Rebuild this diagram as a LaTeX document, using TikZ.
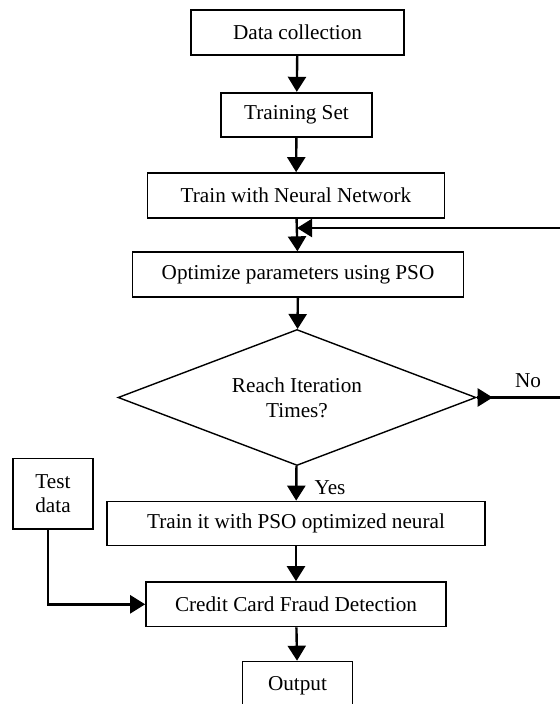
\documentclass[tikz,border=0pt]{standalone}
\usepackage{fontspec}
\setmainfont{Liberation Serif}
\usetikzlibrary{shapes.geometric,arrows.meta}

\begin{document}
\begin{tikzpicture}[x=0.5pt, y=-0.5pt,
    box/.style={draw, line width=0.85pt, inner sep=0pt, align=center,
                font=\fontsize{10.6}{12.3}\selectfont},
    decision/.style={box, diamond, aspect=2.63, line width=0.7pt},
    flow/.style={line width=1.2pt, -{Triangle[length=7.5pt,width=9pt]}},
    wire/.style={line width=1.2pt},
    tag/.style={font=\fontsize{10.6}{12.3}\selectfont}]
        \clip (0,0) rectangle (560,704);                                                              % page frame
        \node[box, minimum width=106.5pt, minimum height=22.5pt] (collect)  at (297.5,32.5)  {Data collection};
        \node[box, minimum width=75.5pt,  minimum height=22.3pt] (trainset) at (296.5,115)   {Training Set};
        \node[box, minimum width=148.5pt, minimum height=22.5pt] (trainnn)  at (296,195.5)   {Train with Neural Network};
        \node[box, minimum width=165.5pt, minimum height=22.3pt] (optim)    at (298,274.5)   {Optimize parameters using PSO};
        \node[decision, minimum width=179pt, minimum height=68pt] (reach)   at (297,397.5)   {Reach Iteration\\Times?};
        \node[box, minimum width=189pt,   minimum height=22pt]   (trainpso) at (296,523.5)   {Train it with PSO optimized neural};
        \node[box, minimum width=150pt,   minimum height=22.3pt] (detect)   at (296,604.3)   {Credit Card Fraud Detection};
        \node[box, minimum width=55pt,    minimum height=24pt, anchor=north] (output) at (297.5,660.7) {Output};
        \node[box, minimum width=39.7pt,  minimum height=35.3pt] (testdata) at (53,493.7)    {Test\\data};
        % loop back from the decision
        \coordinate (fbin)  at (297,228);
        \coordinate (loopa) at (580,397.5);
        \coordinate (loopb) at (580,228);
        \draw [flow] (collect)  -- (trainset);                                                         %
        \draw [flow] (trainset) -- (trainnn);                                                          %
        \draw [flow] (trainnn)  -- (optim);                                                            %
        \draw [flow] (optim)    -- (reach);                                                            %
        \draw [wire] (reach.east) -- (loopa) -- (loopb);                                               % No
        \draw [flow] (loopb) -- (fbin);                                                                %
        \draw [flow] (reach.east) -- ++(16,0);                                                         %
        \node[tag] (no)  at (528,381) {No};                                                            %
        \draw [flow] (reach)    -- (trainpso);                                                         % Yes
        \node[tag] (yes) at (330,488) {Yes};                                                           %
        \draw [flow] (trainpso) -- (detect);                                                           %
        \draw [flow] ([xshift=-2.5pt]testdata.south) |- (detect.west);                                 %
        \draw [flow] (detect)   -- (output);                                                           %
\end{tikzpicture}
\end{document}
